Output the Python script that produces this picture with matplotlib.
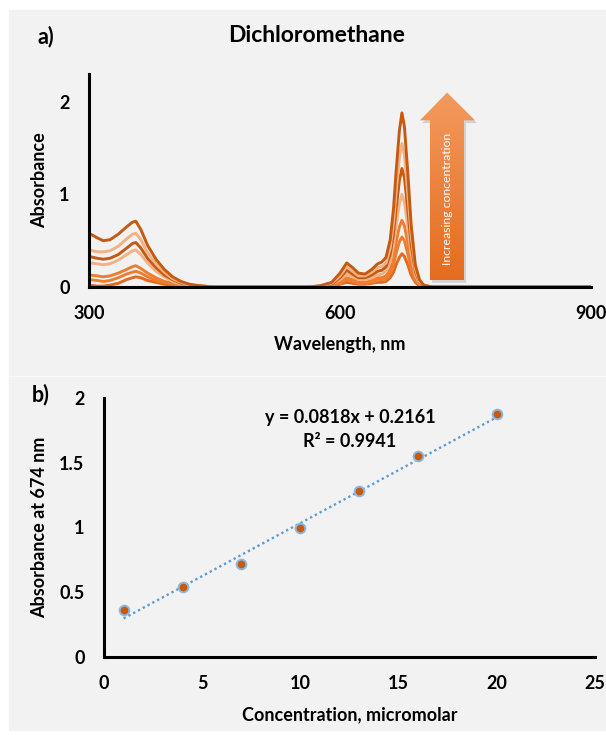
import numpy as np
import matplotlib
matplotlib.use('Agg')
import matplotlib.pyplot as plt
from matplotlib.patches import Rectangle, Polygon

plt.rcParams['font.family'] = ['Lato', 'DejaVu Sans']

W, H = 606, 735

# concentrations (micromolar) and absorbance at 674 nm
conc = [1, 4, 7, 10, 13, 16, 20]
abs_674 = [0.36, 0.54, 0.72, 1.00, 1.28, 1.55, 1.88]
slope, intercept, r2 = 0.0818, 0.2161, 0.9941

# spectra: wavelength grid (nm) and one absorbance trace per concentration
wl = [300, 310, 317, 325, 335, 345, 352, 356, 362, 370, 380, 390, 400, 410, 420, 435, 450,
      560, 575, 590, 600, 608, 615, 622, 630, 638, 645, 650, 655, 660, 664, 667, 671, 674,
      677, 681, 685, 690, 695, 700, 710, 900]

spec_1 = [0.02, 0.01, 0.01, 0.02, 0.04, 0.08, 0.10, 0.11, 0.10, 0.07, 0.05, 0.03, 0.02, 0.01, 0.00, 0.00, 0.00,
          0.00, 0.00, 0.01, 0.03, 0.05, 0.04, 0.03, 0.03, 0.04, 0.05, 0.05, 0.06, 0.10, 0.16, 0.24, 0.32, 0.36,
          0.33, 0.24, 0.13, 0.05, 0.01, 0.00, 0.00, 0.00]
spec_4 = [0.08, 0.07, 0.06, 0.07, 0.10, 0.14, 0.16, 0.17, 0.15, 0.11, 0.07, 0.05, 0.03, 0.01, 0.01, 0.00, 0.00,
          0.00, 0.00, 0.01, 0.04, 0.08, 0.06, 0.04, 0.04, 0.05, 0.07, 0.08, 0.09, 0.15, 0.24, 0.36, 0.49, 0.54,
          0.50, 0.36, 0.19, 0.07, 0.02, 0.01, 0.00, 0.00]
spec_7 = [0.13, 0.12, 0.11, 0.12, 0.15, 0.19, 0.22, 0.23, 0.20, 0.15, 0.10, 0.06, 0.04, 0.02, 0.01, 0.00, 0.00,
          0.00, 0.00, 0.02, 0.06, 0.10, 0.08, 0.06, 0.05, 0.07, 0.10, 0.10, 0.12, 0.19, 0.32, 0.48, 0.65, 0.72,
          0.66, 0.48, 0.26, 0.09, 0.03, 0.01, 0.00, 0.00]
spec_10 = [0.26, 0.25, 0.24, 0.25, 0.29, 0.35, 0.39, 0.40, 0.35, 0.26, 0.17, 0.11, 0.06, 0.03, 0.02, 0.01, 0.00,
           0.00, 0.01, 0.03, 0.08, 0.14, 0.11, 0.08, 0.08, 0.10, 0.13, 0.14, 0.17, 0.27, 0.45, 0.66, 0.90, 1.00,
           0.92, 0.66, 0.36, 0.13, 0.04, 0.01, 0.00, 0.00]
spec_13 = [0.33, 0.31, 0.30, 0.31, 0.35, 0.42, 0.47, 0.48, 0.42, 0.31, 0.21, 0.13, 0.08, 0.04, 0.02, 0.01, 0.00,
           0.00, 0.01, 0.03, 0.10, 0.18, 0.14, 0.10, 0.10, 0.13, 0.17, 0.18, 0.22, 0.35, 0.58, 0.84, 1.15, 1.28,
           1.18, 0.84, 0.46, 0.17, 0.05, 0.01, 0.00, 0.00]
spec_16 = [0.40, 0.38, 0.38, 0.39, 0.44, 0.52, 0.57, 0.58, 0.51, 0.37, 0.25, 0.16, 0.09, 0.05, 0.02, 0.01, 0.00,
           0.00, 0.01, 0.04, 0.12, 0.22, 0.17, 0.12, 0.12, 0.16, 0.21, 0.22, 0.26, 0.42, 0.70, 1.02, 1.40, 1.55,
           1.43, 1.02, 0.56, 0.20, 0.06, 0.02, 0.00, 0.00]
spec_20 = [0.58, 0.53, 0.50, 0.51, 0.57, 0.65, 0.70, 0.71, 0.62, 0.45, 0.30, 0.19, 0.11, 0.06, 0.03, 0.01, 0.00,
           0.00, 0.01, 0.05, 0.15, 0.26, 0.21, 0.15, 0.14, 0.19, 0.25, 0.27, 0.32, 0.51, 0.85, 1.24, 1.69, 1.88,
           1.73, 1.24, 0.68, 0.24, 0.08, 0.02, 0.00, 0.00]

spectra = [spec_1, spec_4, spec_7, spec_10, spec_13, spec_16, spec_20]
spec_colors = ['#E2691E', '#ED7D31', '#ED7D31', '#F4B183', '#C55A11', '#F4B183', '#C55A11']


def px_axes(l, t, r, b):
    return [l / W, 1 - b / H, (r - l) / W, (b - t) / H]


def style_axes(ax):
    ax.set_facecolor('none')
    for s in ['top', 'right']:
        ax.spines[s].set_visible(False)
    for s in ['left', 'bottom']:
        ax.spines[s].set_linewidth(2.2)
        ax.spines[s].set_color('black')
        ax.spines[s].set_zorder(5)
    ax.tick_params(length=0, labelsize=13)
    for lab in ax.get_xticklabels() + ax.get_yticklabels():
        lab.set_fontweight('bold')


fig = plt.figure(figsize=(W / 100, H / 100), dpi=100, facecolor='white')

# grey panel backgrounds
fig.patches.append(Rectangle((8.5 / W, 1 - 375 / H), 1 - 8.5 / W, 365 / H,
                             transform=fig.transFigure, color='#F2F2F2', zorder=-10))
fig.patches.append(Rectangle((8.5 / W, 1 - 730 / H), 1 - 8.5 / W, 353 / H,
                             transform=fig.transFigure, color='#F2F2F2', zorder=-10))

# ---- a) spectra ----
ax1 = fig.add_axes(px_axes(89, 74, 591, 287))
for spec, c in zip(spectra, spec_colors):
    ax1.plot(wl, spec, color=c, lw=2.1, solid_joinstyle='round', zorder=3)
ax1.set_xlim(300, 900)
ax1.set_ylim(0, 2.3)
ax1.set_xticks([300, 600, 900])
ax1.set_yticks([0, 1, 2])
style_axes(ax1)
ax1.tick_params(axis='y', pad=14)
ax1.tick_params(axis='x', pad=13)
ax1.set_xlabel('Wavelength, nm', fontsize=13, fontweight='bold', labelpad=10)
ax1.set_ylabel('Absorbance', fontsize=13, fontweight='bold', labelpad=8)

# "Increasing concentration" arrow with vertical gradient
arrow_pts = [(707.5, 0.075), (748.2, 0.075), (748.2, 1.80), (761.3, 1.80),
             (728.0, 2.10), (695.6, 1.80), (707.5, 1.80)]
shadow = Polygon([(x + 2.5, y - 0.03) for x, y in arrow_pts], closed=True,
                 facecolor='#9a9a9a', edgecolor='none', alpha=0.35, zorder=3)
ax1.add_patch(shadow)
arrow = Polygon(arrow_pts, closed=True, facecolor='none', edgecolor='none', zorder=4)
ax1.add_patch(arrow)
grad = np.linspace(0, 1, 256).reshape(-1, 1)
cmap = matplotlib.colors.LinearSegmentedColormap.from_list('arr', ['#E46C1E', '#F39A5E'])
img = ax1.imshow(grad, cmap=cmap, origin='lower', aspect='auto',
                 extent=(695.6, 761.3, 0.075, 2.10), zorder=4)
img.set_clip_path(arrow)
ax1.text(728.0, 0.95, 'Increasing concentration', rotation=90, color='white',
         fontsize=8.8, ha='center', va='center', zorder=6)
ax1.set_xlim(300, 900)
ax1.set_ylim(0, 2.3)

fig.text(46 / W, 1 - 37 / H, 'a)', fontsize=15.5, fontweight='bold', ha='center', va='center')
fig.text(317 / W, 1 - 36 / H, 'Dichloromethane', fontsize=16.5, fontweight='bold',
         ha='center', va='center')

# ---- b) calibration at 674 nm ----
ax2 = fig.add_axes(px_axes(104, 398, 595, 657))
fit_x = np.array([conc[0], conc[-1]])
ax2.plot(fit_x, slope * fit_x + intercept, color='#5B9BD5', lw=1.7,
         linestyle=(0, (1, 1.3)), zorder=3)
ax2.plot(conc, abs_674, 'o', color='#C55A11', markersize=7,
         markeredgecolor='#8DB8E2', markeredgewidth=1.4, zorder=4)
ax2.set_xlim(0, 25)
ax2.set_ylim(0, 2)
ax2.set_xticks([0, 5, 10, 15, 20, 25])
ax2.set_yticks([0, 0.5, 1, 1.5, 2])
ax2.set_yticklabels(['0', '0.5', '1', '1.5', '2'])
style_axes(ax2)
ax2.tick_params(axis='y', pad=14)
ax2.tick_params(axis='x', pad=13)
ax2.set_xlabel('Concentration, micromolar', fontsize=13, fontweight='bold', labelpad=10)
ax2.set_ylabel('Absorbance at 674 nm', fontsize=13, fontweight='bold', labelpad=8)

ax2.text(350 / W, 1 - 417 / H, f'y = {slope}x + {intercept}', transform=fig.transFigure,
         fontsize=13, fontweight='bold', ha='center', va='center')
ax2.text(350 / W, 1 - 442 / H, f'R\u00b2 = {r2}', transform=fig.transFigure,
         fontsize=13, fontweight='bold', ha='center', va='center')

fig.text(41 / W, 1 - 395 / H, 'b)', fontsize=15.5, fontweight='bold', ha='center', va='center')

fig.savefig('out.png', dpi=100, facecolor='white')
